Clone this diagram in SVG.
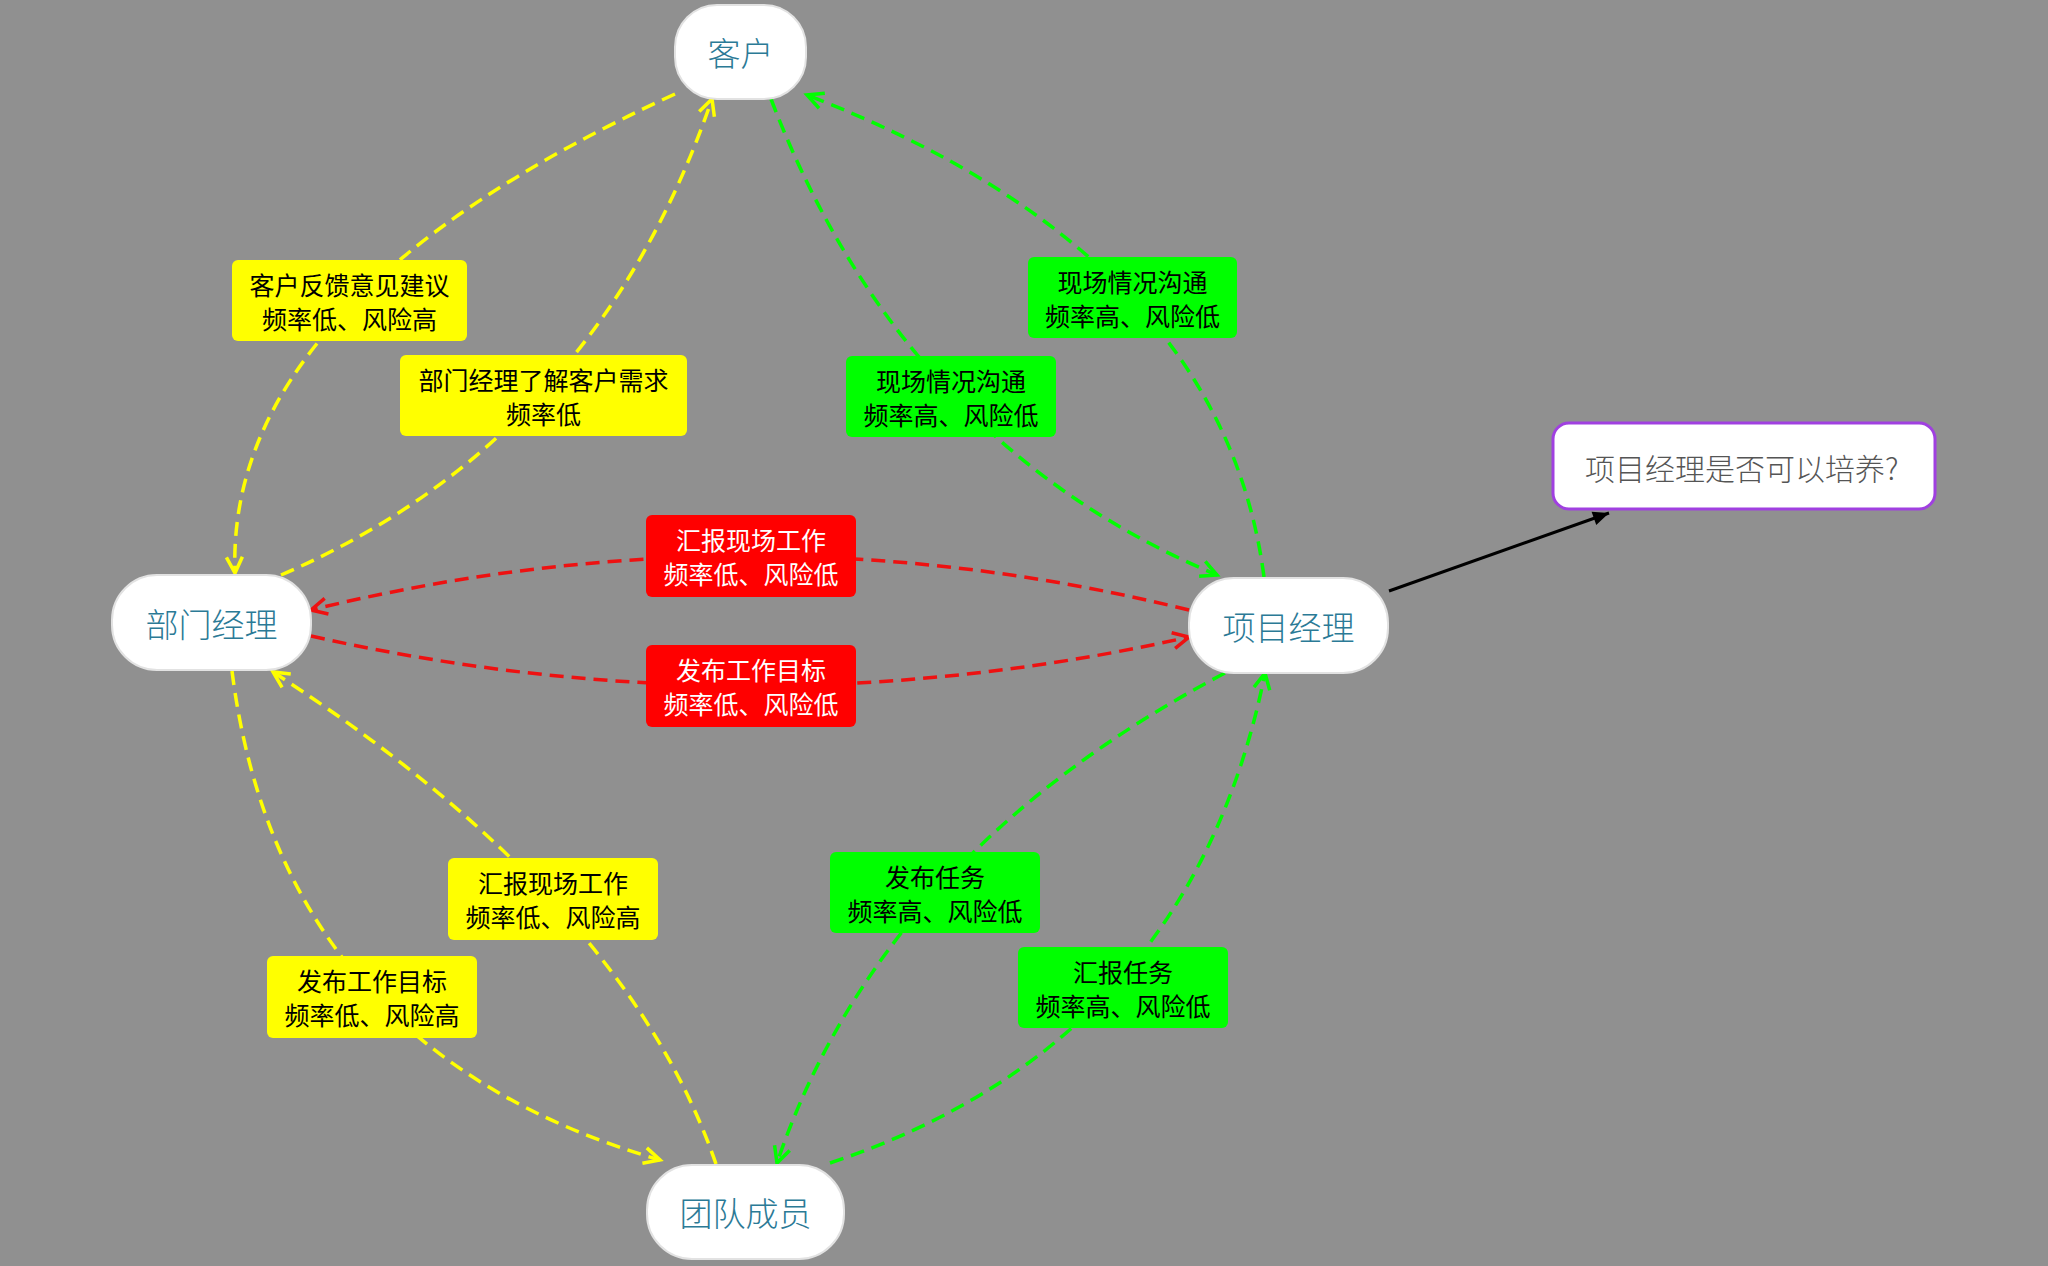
<svg xmlns="http://www.w3.org/2000/svg" width="2048" height="1266" viewBox="0 0 2048 1266">
<style>
.node rect{fill:#ffffff;stroke:#e2e2e2;stroke-width:2}
.node text{font-family:"Noto Sans CJK SC",sans-serif;font-size:33px;font-weight:300;fill:#2b7a96;text-anchor:middle;dominant-baseline:central}
.edge{fill:none;stroke-width:3.5;stroke-dasharray:14 8}
.y{stroke:#ffff00}
.g{stroke:#00ff00}
.r{stroke:#ee1111}
.lbl text{font-family:"Noto Sans CJK SC",sans-serif;font-size:25px;text-anchor:middle;dominant-baseline:central;fill:#000}
.lbl.red text{fill:#ffffff}
.lbl.yellow rect{fill:#ffff00}
.lbl.green rect{fill:#00ff00}
.lbl.red rect{fill:#ff0000}
</style>
<defs>
<marker id="ay" markerUnits="userSpaceOnUse" markerWidth="22" markerHeight="22" refX="17" refY="9" orient="auto" overflow="visible"><path d="M1,1 L17,9 L1,17" fill="none" stroke="#ffff00" stroke-width="3.5"/></marker>
<marker id="ag" markerUnits="userSpaceOnUse" markerWidth="22" markerHeight="22" refX="17" refY="9" orient="auto" overflow="visible"><path d="M1,1 L17,9 L1,17" fill="none" stroke="#00ff00" stroke-width="3.5"/></marker>
<marker id="ar" markerUnits="userSpaceOnUse" markerWidth="22" markerHeight="22" refX="17" refY="9" orient="auto" overflow="visible"><path d="M1,1 L17,9 L1,17" fill="none" stroke="#ee1111" stroke-width="3.5"/></marker>
<marker id="ab" markerUnits="userSpaceOnUse" markerWidth="20" markerHeight="20" refX="16" refY="7" orient="auto" overflow="visible"><path d="M0,0 L16,7 L0,14 Z" fill="#000"/></marker>
</defs>
<rect width="2048" height="1266" fill="#909090"/>
<g id="connectors">
<path class="edge y" d="M675,94 Q225,300 235,573" marker-end="url(#ay)"/>
<path class="edge y" d="M281,575 Q595,440 712,99" marker-end="url(#ay)"/>
<path class="edge g" d="M771,99 Q903,444 1217,575" marker-end="url(#ag)"/>
<path class="edge g" d="M1264,577 Q1222,255 807,95" marker-end="url(#ag)"/>
<path class="edge r" d="M1189,610 Q752,502 311,610" marker-end="url(#ar)"/>
<path class="edge r" d="M311,636 Q752,735 1189,637" marker-end="url(#ar)"/>
<path class="edge y" d="M232,671 Q280,1050 660,1160" marker-end="url(#ay)"/>
<path class="edge y" d="M716,1164 Q625,900 273,672" marker-end="url(#ay)"/>
<path class="edge g" d="M1225,673 Q882,853 777,1163" marker-end="url(#ag)"/>
<path class="edge g" d="M830,1163 Q1191,1043 1265,673" marker-end="url(#ag)"/>
<path d="M1389,591 L1609,513" fill="none" stroke="#000" stroke-width="3" marker-end="url(#ab)"/>
</g>
<g id="labels">
<g id="lbl1" class="lbl yellow"><rect x="232" y="260" width="235" height="81" rx="6"/><text x="349.5" y="284">客户反馈意见建议</text><text x="349.5" y="318">频率低、风险高</text></g>
<g id="lbl2" class="lbl yellow"><rect x="400" y="355" width="287" height="81" rx="6"/><text x="543.5" y="379">部门经理了解客户需求</text><text x="543.5" y="413">频率低</text></g>
<g id="lbl3" class="lbl green"><rect x="846" y="356" width="210" height="81" rx="6"/><text x="951" y="380">现场情况沟通</text><text x="951" y="414">频率高、风险低</text></g>
<g id="lbl4" class="lbl green"><rect x="1028" y="257" width="209" height="81" rx="6"/><text x="1132.5" y="281">现场情况沟通</text><text x="1132.5" y="315">频率高、风险低</text></g>
<g id="lbl5" class="lbl red"><rect x="646" y="515" width="210" height="82" rx="6"/><text x="751" y="539">汇报现场工作</text><text x="751" y="573">频率低、风险低</text></g>
<g id="lbl6" class="lbl red"><rect x="646" y="645" width="210" height="82" rx="6"/><text x="751" y="669">发布工作目标</text><text x="751" y="703">频率低、风险低</text></g>
<g id="lbl7" class="lbl yellow"><rect x="448" y="858" width="210" height="82" rx="6"/><text x="553" y="882">汇报现场工作</text><text x="553" y="916">频率低、风险高</text></g>
<g id="lbl8" class="lbl yellow"><rect x="267" y="956" width="210" height="82" rx="6"/><text x="372" y="980">发布工作目标</text><text x="372" y="1014">频率低、风险高</text></g>
<g id="lbl9" class="lbl green"><rect x="830" y="852" width="210" height="81" rx="6"/><text x="935" y="876">发布任务</text><text x="935" y="910">频率高、风险低</text></g>
<g id="lbl10" class="lbl green"><rect x="1018" y="947" width="210" height="81" rx="6"/><text x="1123" y="971">汇报任务</text><text x="1123" y="1005">频率高、风险低</text></g>
</g>
<g id="node-kehu" class="node"><rect x="675" y="5" width="131" height="94" rx="42"/><text x="740.5" y="52">客户</text></g>
<g id="node-bumen" class="node"><rect x="112" y="575" width="199" height="95" rx="45"/><text x="211.5" y="622.5">部门经理</text></g>
<g id="node-xiangmu" class="node"><rect x="1189" y="578" width="199" height="95" rx="45"/><text x="1288.5" y="625.5">项目经理</text></g>
<g id="node-tuandui" class="node"><rect x="647" y="1165" width="197" height="94" rx="45"/><text x="745.5" y="1212">团队成员</text></g>
<g id="node-question"><rect x="1553" y="423" width="382" height="86" rx="16" fill="#ffffff" stroke="#a040e0" stroke-width="3"/><text x="1585" y="467" font-family="Noto Sans CJK SC, sans-serif" font-size="30" font-weight="300" fill="#555555" dominant-baseline="central">项目经理是否可以培养?</text></g>
</svg>
